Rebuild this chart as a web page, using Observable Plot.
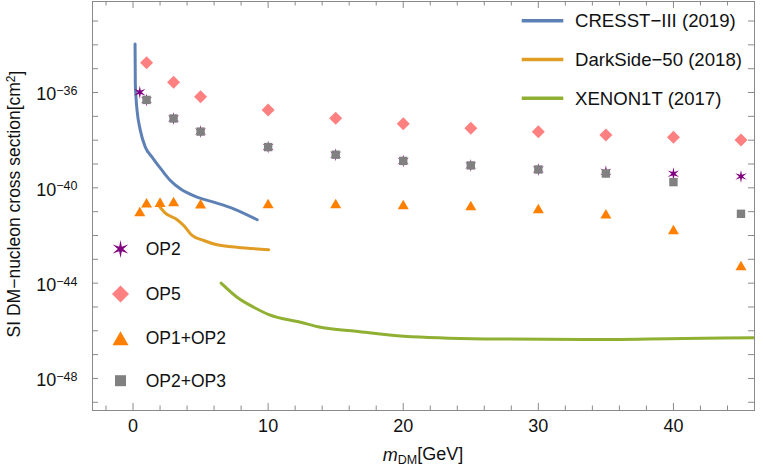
<!DOCTYPE html>
<html><head><meta charset="utf-8">
<script src="https://cdn.jsdelivr.net/npm/d3@7"></script>
<script src="https://cdn.jsdelivr.net/npm/@observablehq/plot@0.6"></script>
<style>
body{margin:0;background:#fff;}
#chart{width:763px;height:470px;}
</style>
</head><body><div id="chart"></div>
<script>
// ---- data (log10 of cross section in cm^2, mass in GeV) ----
const cresstMass = [0.15,0.17,0.22,0.30,0.54,0.91,1.41,2.15,2.76,3.50,4.74,5.97,7.45,9.19];
const cresstLogSigma = [-33.96,-35.64,-36.20,-36.76,-37.59,-38.29,-38.71,-39.27,-39.69,-40.04,-40.39,-40.60,-40.88,-41.34];
const darksideMass = [1.90,2.39,3.26,3.75,4.37,5.23,6.22,7.70,10.04];
const darksideLogSigma = [-40.74,-41.06,-41.34,-41.58,-42.00,-42.21,-42.39,-42.49,-42.60];
const xenonMass = [6.52,7.70,8.93,10.05,12.40,13.87,16.50,20.04,26.00,33.40,40.80,46.00];
const xenonLogSigma = [-44.00,-44.59,-45.01,-45.32,-45.64,-45.85,-46.02,-46.23,-46.34,-46.37,-46.32,-46.29];

const op2Mass = [0.5,1,3,5,10,15,20,25,30,35,40,45];
const op2LogSigma = [-35.99,-36.31,-37.09,-37.64,-38.29,-38.61,-38.87,-39.06,-39.23,-39.33,-39.41,-39.52];
const op5Mass = [1,3,5,10,15,20,25,30,35,40,45];
const op5LogSigma = [-34.75,-35.57,-36.18,-36.73,-37.08,-37.31,-37.50,-37.65,-37.78,-37.88,-37.99];
const op1op2Mass = [0.5,1,2,3,5,10,15,20,25,30,35,40,45];
const op1op2LogSigma = [-40.99,-40.63,-40.60,-40.57,-40.67,-40.66,-40.66,-40.70,-40.74,-40.87,-41.09,-41.75,-43.26];
const op2op3Mass = [1,3,5,10,15,20,25,30,35,40,45];
const op2op3LogSigma = [-36.31,-37.09,-37.64,-38.29,-38.61,-38.87,-39.06,-39.23,-39.40,-39.76,-41.09];

const curveNames = ["CRESST\u2212III (2019)","DarkSide\u221250 (2018)","XENON1T (2017)"];
const pointNames = ["OP2","OP5","OP1+OP2","OP2+OP3"];

const xLabelTicks = [0,10,20,30,40];
const xMinorTicks = [-2,2,4,6,8,12,14,16,18,22,24,26,28,32,34,36,38,42,44];
const yLabelExps = [-48,-44,-40,-36];
const yTickExps = [-49,-48,-47,-46,-45,-44,-43,-42,-41,-40,-39,-38,-37,-36,-35,-34,-33];

// ---- styling ----
const W = 763, H = 470, mL = 92, mR = 9, mT = 1, mB = 60;
const plotW = W - mL - mR, plotH = H - mT - mB;
const frameColor = "#8a8a8a";
const textColor = "#111";
const lineColors = ["#5E81B5","#E19C24","#8FB032"];
const pointColors = ["#800080","#FF8080","#FF8000","#808080"];
const font = "'Liberation Sans', Arial, Helvetica, sans-serif";

const rows = (xs, es) => xs.map((x, i) => ({mass: x, sigma: Math.pow(10, es[i])}));

// custom symbols: r = sqrt(size/pi) is half-width
const star6 = {draw(ctx, size){
  const r = Math.sqrt(size/Math.PI), ri = r*0.3;
  for (let i = 0; i < 12; i++) {
    const a = -Math.PI/2 + i*Math.PI/6, rr = i%2 ? ri : r;
    const px = rr*Math.cos(a), py = rr*Math.sin(a);
    if (i === 0) ctx.moveTo(px, py); else ctx.lineTo(px, py);
  }
  ctx.closePath();
}};
const diamond = {draw(ctx, size){
  const r = Math.sqrt(size/Math.PI);
  ctx.moveTo(0,-r); ctx.lineTo(r,0); ctx.lineTo(0,r); ctx.lineTo(-r,0); ctx.closePath();
}};
const triangle = {draw(ctx, size){
  const r = Math.sqrt(size/Math.PI), h = r*Math.sqrt(3);
  ctx.moveTo(0,-h/2); ctx.lineTo(r,h/2); ctx.lineTo(-r,h/2); ctx.closePath();
}};
const square = {draw(ctx, size){
  const r = Math.sqrt(size/Math.PI);
  ctx.moveTo(-r,-r); ctx.lineTo(r,-r); ctx.lineTo(r,r); ctx.lineTo(-r,r); ctx.closePath();
}};
const symbols = [star6, diamond, triangle, square];
const plotR = [6.5, 6.5, 5.5, 4.2];
const legendR = [9, 8.5, 8, 5.5];

const curves = [rows(cresstMass, cresstLogSigma), rows(darksideMass, darksideLogSigma), rows(xenonMass, xenonLogSigma)];
const pts = [rows(op2Mass, op2LogSigma), rows(op5Mass, op5LogSigma), rows(op1op2Mass, op1op2LogSigma), rows(op2op3Mass, op2op3LogSigma)];

const svg = Plot.plot({
  width: W, height: H, marginLeft: mL, marginRight: mR, marginTop: mT, marginBottom: mB,
  style: {fontFamily: font, fontSize: "18px", color: textColor, background: "#fff", overflow: "visible"},
  x: {domain: [-3, 46]},
  y: {type: "log", domain: [Math.pow(10,-49.345), Math.pow(10,-32.18)]},
  marks: [
    ...curves.map((c, i) => Plot.line(c, {x: "mass", y: "sigma", stroke: lineColors[i], strokeWidth: 3, clip: true, curve: "monotone-x"})),
    ...pts.map((p, i) => Plot.dot(p, {x: "mass", y: "sigma", symbol: symbols[i], r: plotR[i], fill: pointColors[i], stroke: "none"})),
    Plot.frame({stroke: frameColor}),
    Plot.tickX(xLabelTicks, {x: d => d, insetTop: plotH - 7, stroke: frameColor}),
    Plot.tickX(xLabelTicks, {x: d => d, insetBottom: plotH - 7, stroke: frameColor}),
    Plot.tickX(xMinorTicks, {x: d => d, insetTop: plotH - 4.5, stroke: frameColor}),
    Plot.tickX(xMinorTicks, {x: d => d, insetBottom: plotH - 4.5, stroke: frameColor}),
    Plot.tickY(yTickExps.map(e => Math.pow(10, e)), {y: d => d, insetRight: plotW - 6, stroke: frameColor}),
    Plot.tickY(yTickExps.map(e => Math.pow(10, e)), {y: d => d, insetLeft: plotW - 6, stroke: frameColor}),
    Plot.axisX({ticks: xLabelTicks, tickSize: 0, tickPadding: 9, tickFormat: d => String(d), label: null, fontSize: 18}),
    Plot.axisY({ticks: yLabelExps.map(e => Math.pow(10, e)), tickSize: 0, tickPadding: 15, dy: 2,
      tickFormat: d => "10^" + Math.round(Math.log10(d)), label: null, fontSize: 18})
  ]
});
document.getElementById("chart").appendChild(svg);

const S = d3.select(svg);
// superscript exponents on y tick labels
S.selectAll('g[aria-label="y-axis tick label"] text').each(function(){
  const t = d3.select(this);
  const s = t.text();
  const e = s.split("^")[1].replace("-", "\u2212");
  t.text(null);
  t.append("tspan").text("10");
  t.append("tspan").attr("dy", "-0.42em").attr("font-size", "12.5px").text(e);
});

// axis titles
S.append("text")
  .attr("transform", `translate(20,${204}) rotate(-90)`)
  .attr("text-anchor", "middle").attr("font-size", "17.5px").attr("fill", textColor)
  .call(t => {
    t.append("tspan").text("SI DM\u2212nucleon cross section[cm");
    t.append("tspan").attr("dy", "-0.45em").attr("font-size", "12px").text("2");
    t.append("tspan").attr("dy", "0.45em").text("]");
  });
S.append("text")
  .attr("x", 423).attr("y", 461)
  .attr("text-anchor", "middle").attr("font-size", "18px").attr("fill", textColor)
  .call(t => {
    t.append("tspan").attr("font-style", "italic").text("m");
    t.append("tspan").attr("dy", "0.25em").attr("font-size", "12.5px").text("DM");
    t.append("tspan").attr("dy", "-0.25em").text("[GeV]");
  });

// legend: curves (top right)
const lg1 = S.append("g").attr("text-anchor", "start");
curveNames.forEach((name, i) => {
  const y = 20.7 + i*38.8;
  lg1.append("line").attr("x1", 521.7).attr("x2", 563.3).attr("y1", y).attr("y2", y)
    .attr("stroke", lineColors[i]).attr("stroke-width", 3.5);
  lg1.append("text").attr("x", 575).attr("y", y).attr("dy", "0.35em")
    .attr("text-anchor", "start").attr("font-size", "18.6px").attr("fill", textColor).text(name);
});
// legend: points (left)
const lg2 = S.append("g").attr("text-anchor", "start");
const legY = [249, 294, 338.3, 380.7];
pointNames.forEach((name, i) => {
  lg2.append("path").attr("transform", `translate(120.5,${legY[i]})`)
    .attr("d", d3.symbol(symbols[i], Math.PI*legendR[i]*legendR[i])())
    .attr("fill", pointColors[i]);
  lg2.append("text").attr("x", 145.7).attr("y", legY[i]).attr("dy", "0.35em")
    .attr("text-anchor", "start").attr("font-size", "17.5px").attr("fill", textColor).text(name);
});
</script>
</body></html>
